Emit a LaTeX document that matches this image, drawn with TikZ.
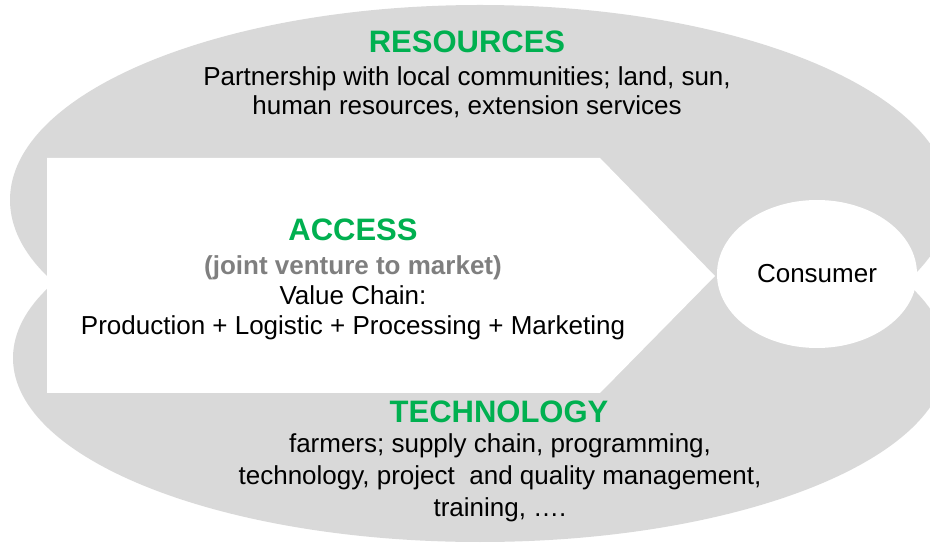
\documentclass[tikz,border=0pt]{standalone}
\usepackage{fontspec}
\setmainfont{Liberation Sans}
\usetikzlibrary{shapes.geometric}
\definecolor{panelgray}{HTML}{D9D9D9}
\definecolor{headgreen}{HTML}{00B050}
\definecolor{subgray}{HTML}{7F7F7F}
\begin{document}
\begin{tikzpicture}[x=1pt,y=-1pt,
  heading/.style={font=\fontsize{31}{36}\selectfont\bfseries, text=headgreen, inner sep=0pt},
  bodytext/.style={font=\fontsize{26}{29}\selectfont, align=center, inner sep=0pt},
  subtext/.style={font=\fontsize{26}{30}\selectfont\bfseries, text=subgray, inner sep=0pt}]
  \useasboundingbox (0,0) rectangle (930,545);
  % two overlapping grey ellipses
  \fill[panelgray] (480,200) ellipse [x radius=470, y radius=195];
  \fill[panelgray] (480,358) ellipse [x radius=467, y radius=184];
  % white value-chain arrow
  \fill[white] (47,158) -- (600,158) -- (715,276) -- (600,393) -- (47,393) -- cycle;
  % consumer
  \node[ellipse, fill=white, minimum width=200, minimum height=148, inner sep=0pt,
        font=\fontsize{26}{30}\selectfont] (consumer) at (817,274) {Consumer};
  % resources
  \node[heading] (res) at (467,42) {RESOURCES};
  \node[bodytext] (restext) at (467,92) {Partnership with local communities; land, sun,\\human resources, extension services};
  % access
  \node[heading] (acc) at (353,230) {ACCESS};
  \node[subtext] (jv) at (353,268) {(joint venture to market)};
  \node[bodytext, font=\fontsize{26}{30}\selectfont] (vc) at (353,313) {Value Chain:\\Production + Logistic + Processing + Marketing};
  % technology
  \node[heading] (tech) at (499,412) {TECHNOLOGY};
  \node[bodytext, font=\fontsize{26}{32}\selectfont] (techtext) at (500,478) {farmers; supply chain, programming,\\technology, project~ and quality management,\\training, \dots.};
\end{tikzpicture}
\end{document}
